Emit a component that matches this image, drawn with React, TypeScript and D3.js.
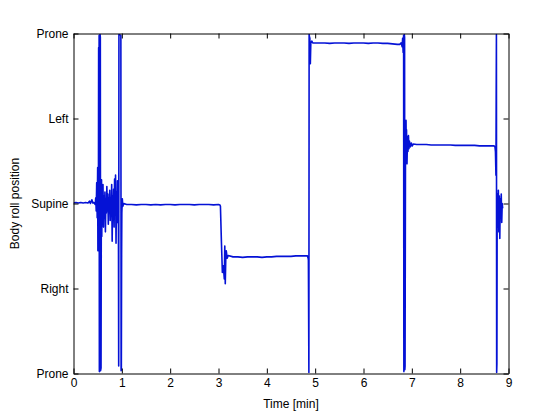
import React, { useRef, useEffect } from 'react';
import * as d3 from 'd3';

// time axis [min] and body roll angle [deg] (-180 prone, -90 right, 0 supine, 90 left, 180 prone)
const timeMin: number[] = [
  0.00, 0.05, 0.10, 0.15, 0.20, 0.25, 0.30, 0.33, 0.35, 0.38, 0.40, 0.42, 0.45,
  0.46, 0.47, 0.48, 0.49, 0.50, 0.505, 0.51, 0.515, 0.52, 0.525, 0.53, 0.535, 0.545, 0.55, 0.555, 0.56, 0.57, 0.575, 0.58, 0.585, 0.59, 0.60,
  0.61, 0.62, 0.63, 0.64, 0.65, 0.66, 0.67, 0.68, 0.69, 0.70, 0.71, 0.72, 0.73, 0.74, 0.75, 0.76, 0.77, 0.78, 0.79, 0.80,
  0.81, 0.82, 0.83, 0.84, 0.85, 0.86, 0.87, 0.88, 0.89, 0.90, 0.91, 0.92,
  0.93, 0.935, 0.94, 0.98, 0.985, 0.99, 0.995, 1.00, 1.01, 1.02, 1.04,
  1.1, 1.2, 1.3, 1.4, 1.5, 1.6, 1.7, 1.8, 1.9, 2.0, 2.1, 2.2, 2.3, 2.4, 2.5, 2.6, 2.7, 2.8, 2.9, 3.0, 3.03,
  3.04, 3.06, 3.08, 3.10, 3.12, 3.13, 3.14, 3.15, 3.16, 3.18, 3.20,
  3.3, 3.4, 3.5, 3.6, 3.7, 3.8, 3.9, 4.0, 4.1, 4.2, 4.3, 4.4, 4.5, 4.6, 4.7, 4.8, 4.84,
  4.855, 4.86, 4.87, 4.875, 4.88, 4.89, 4.90, 4.91, 4.93, 4.95,
  5.0, 5.1, 5.2, 5.3, 5.4, 5.5, 5.6, 5.7, 5.8, 5.9, 6.0, 6.1, 6.2, 6.3, 6.4, 6.5, 6.6, 6.7, 6.75, 6.78,
  6.80, 6.81, 6.82, 6.83, 6.835, 6.84, 6.845, 6.85, 6.855, 6.86, 6.87, 6.875, 6.88, 6.885, 6.89, 6.90,
  6.91, 6.92, 6.93, 6.94, 6.95, 6.97, 6.99, 7.01, 7.03,
  7.1, 7.2, 7.3, 7.4, 7.5, 7.6, 7.7, 7.8, 7.9, 8.0, 8.1, 8.2, 8.3, 8.4, 8.5, 8.6, 8.7, 8.72,
  8.73, 8.74, 8.745, 8.75, 8.755, 8.76, 8.765, 8.77, 8.78, 8.79, 8.80, 8.81, 8.82, 8.83, 8.84, 8.85, 8.86, 8.87, 8.88,
];

const rollDeg: number[] = [
  0.5, 1, 0.5, 1, 0.5, 1, 0.5, 2.5, 0, 4, 0.5, 1, -1,
  6, -8, 22, -15, 38, -50, 12, -28, 165, -45, 178, -178, -176, 179, 176, -177, -174, -20, 25, -35, 15, -12,
  20, -25, 8, -15, 12, -30, 5, -10, 18, -8, 10, -22, 6, -5, 14, -18, 3, -12, 20, -40,
  8, -6, 15, -25, 26, -10, 30, -42, 12, -20, 24, -8,
  -25, -172, 179, 178, -177, -176, -60, -10, 5, -3, 0,
  -1, -1, -1.5, -1, -1, -1.5, -1, -1.5, -1, -1, -1.5, -1, -1, -1, -1.5, -1, -1, -1, -1.5, -1, -1.5,
  -3, -40, -73, -66, -80, -45, -85, -60, -50, -58, -55,
  -56.5, -56.5, -57, -56.5, -56.5, -56.5, -57, -56.5, -56.5, -56, -56, -56, -56, -55.5, -55.5, -55.5, -55.5,
  -58, -60, -179, 179, 177, 175, 148, 170, 172, 170,
  170, 170, 170, 169.5, 170, 170, 170, 169.5, 170, 170, 170, 169.5, 170, 170, 169.5, 169.5, 169, 168.5, 168.5, 170,
  166, 175, 160, 178, -178, -170, 179, 176, -176, -172, 85, 60, 88, 50, 78, 42,
  70, 55, 72, 58, 66, 60, 64, 61, 63,
  62.5, 62.5, 62.5, 62, 62, 62, 62, 62, 61.5, 61.5, 61.5, 61.5, 61.5, 61, 61, 61, 61, 60,
  55, 30, 110, 179, -179, -170, -20, 10, -25, 14, -30, 8, -37, 5, -15, 10, -20, 0, -5,
];

const xTicks: number[] = [0, 1, 2, 3, 4, 5, 6, 7, 8, 9];
const yTicks: number[] = [-180, -90, 0, 90, 180];
const yTickLabels: string[] = ['Prone', 'Right', 'Supine', 'Left', 'Prone'];

export default function App() {
  const svgRef = useRef<SVGSVGElement | null>(null);
  const width = 560;
  const height = 420;

  useEffect(() => {
    const root = d3.select(svgRef.current);
    root.selectAll('*').remove();

    const font = '"Liberation Sans", Arial, sans-serif';
    const left = 73.5, right = 508.5, top = 33.5, bottom = 373.5;

    const x = d3.scaleLinear().domain([0, 9]).range([left, right]);
    const y = d3.scaleLinear().domain([-180, 180]).range([bottom, top]);

    root.append('rect').attr('width', width).attr('height', height).attr('fill', '#fff');

    root.append('defs').append('clipPath').attr('id', 'plot-clip')
      .append('rect')
      .attr('x', left).attr('y', top)
      .attr('width', right - left).attr('height', bottom - top);

    // signal
    const pts: [number, number][] = timeMin.map((t, i) => [t, rollDeg[i]]);
    const line = d3.line<[number, number]>()
      .x(d => x(d[0]))
      .y(d => y(d[1]));

    root.append('path')
      .datum(pts)
      .attr('clip-path', 'url(#plot-clip)')
      .attr('d', line)
      .attr('fill', 'none')
      .attr('stroke', '#0512d6')
      .attr('stroke-width', 1.6)
      .attr('stroke-linejoin', 'round');

    // axes (box with inward ticks, matlab style)
    const styleAxis = (g: d3.Selection<SVGGElement, unknown, null, undefined>) => {
      g.select('.domain').attr('stroke', '#000');
      g.selectAll('.tick line').attr('stroke', '#000');
      g.selectAll('text').attr('fill', '#000').style('font-family', font).style('font-size', '12px');
    };

    root.append('g')
      .attr('transform', `translate(0,${bottom})`)
      .call(d3.axisBottom(x).tickValues(xTicks).tickSize(-5).tickSizeOuter(0).tickPadding(5).tickFormat(d3.format('d')))
      .call(styleAxis);

    root.append('g')
      .attr('transform', `translate(0,${top})`)
      .call(d3.axisTop(x).tickValues(xTicks).tickSize(-5).tickSizeOuter(0).tickFormat(() => ''))
      .call(styleAxis);

    root.append('g')
      .attr('transform', `translate(${left},0)`)
      .call(d3.axisLeft(y).tickValues(yTicks).tickSize(-5).tickSizeOuter(0).tickPadding(5)
        .tickFormat((d, i) => yTickLabels[i]))
      .call(styleAxis);

    root.append('g')
      .attr('transform', `translate(${right},0)`)
      .call(d3.axisRight(y).tickValues(yTicks).tickSize(-5).tickSizeOuter(0).tickFormat(() => ''))
      .call(styleAxis);

    // axis labels
    root.append('text')
      .attr('x', (left + right) / 2)
      .attr('y', 408)
      .attr('text-anchor', 'middle')
      .style('font-family', font)
      .style('font-size', '12px')
      .text('Time [min]');

    root.append('text')
      .attr('transform', `translate(19,${(top + bottom) / 2}) rotate(-90)`)
      .attr('text-anchor', 'middle')
      .style('font-family', font)
      .style('font-size', '12px')
      .text('Body roll position');
  }, []);

  return (
    <div style={{ position: 'absolute', left: 0, top: 0 }}>
      <svg ref={svgRef} width={width} height={height}></svg>
    </div>
  );
}
